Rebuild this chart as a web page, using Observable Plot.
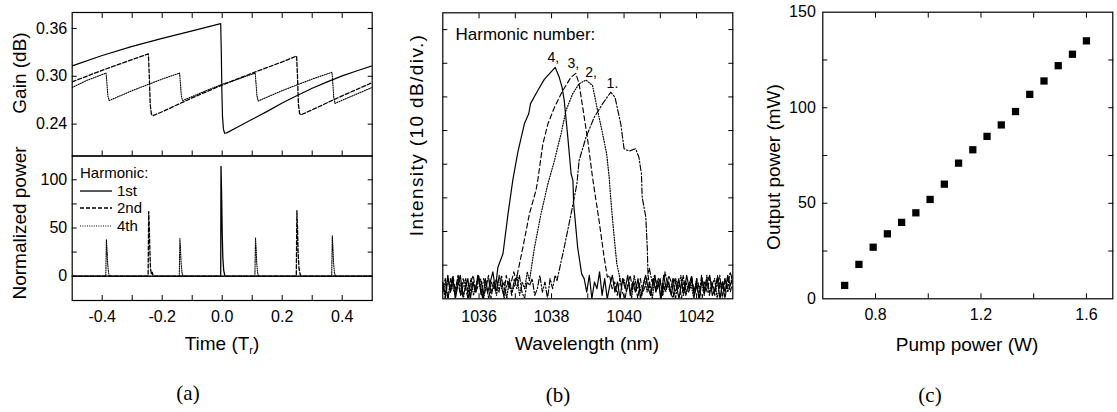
<!DOCTYPE html>
<html><head><meta charset="utf-8">
<script src="https://cdn.jsdelivr.net/npm/d3@7"></script>
<script src="https://cdn.jsdelivr.net/npm/@observablehq/plot@0.6"></script>
<style>
body{margin:0;background:#fff;}
#fig{position:relative;width:1117px;height:412px;background:#fff;font-family:"Liberation Sans",Arial,sans-serif;color:#000;overflow:hidden}
.lab{position:absolute;white-space:nowrap;font-size:19px;line-height:1;transform:translate(-50%,-50%)}
.rot{transform:translate(-50%,-50%) rotate(-90deg)}
.pl{position:absolute;white-space:nowrap;font-family:"Liberation Serif","Times New Roman",serif;font-size:21px;line-height:1;transform:translate(-50%,-50%)}
.leg{position:absolute;white-space:nowrap;font-size:15px;line-height:18px;height:18px;display:flex;align-items:center}
.leg svg{margin-right:4px}
sub{font-size:11px;vertical-align:-4px;line-height:0}
</style></head><body><div id="fig"></div><script>
// ---------- Panel (a): gain dynamics ----------
const timeTicks = [-0.4,-0.3,-0.2,-0.1,0,0.1,0.2,0.3,0.4];
const timeLabels = [-0.4,-0.2,0,0.2,0.4];
const gainTicks = [0.24,0.30,0.36];
const powerTicks = [0,25,50,75,100];
const powerLabels = [0,50,100];

// [time (Tr), gain (dB)]
const gain1st = [[-0.5,0.313],[-0.4,0.326],[-0.3,0.3375],[-0.2,0.3475],[-0.1,0.357],[-0.005,0.366],[-0.003,0.33],[-0.001,0.28],[0.001,0.25],[0.004,0.234],[0.008,0.2285],[0.015,0.229],[0.05,0.236],[0.1,0.246],[0.15,0.256],[0.2,0.2665],[0.25,0.276],[0.3,0.285],[0.35,0.293],[0.4,0.3005],[0.45,0.307],[0.5,0.313]];
const gain2nd = [[-0.5,0.293],[-0.4,0.3075],[-0.3,0.321],[-0.246,0.328],[-0.243,0.3],[-0.24,0.265],[-0.236,0.2525],[-0.232,0.2505],[-0.2,0.2555],[-0.1,0.273],[0,0.289],[0.1,0.304],[0.2,0.318],[0.248,0.3255],[0.251,0.3],[0.254,0.265],[0.258,0.2535],[0.262,0.2515],[0.3,0.258],[0.4,0.2755],[0.5,0.292]];
const gain4th = [[-0.5,0.286],[-0.45,0.295],[-0.387,0.304],[-0.384,0.29],[-0.381,0.275],[-0.377,0.2695],[-0.3,0.282],[-0.2,0.2965],[-0.142,0.304],[-0.139,0.29],[-0.136,0.275],[-0.132,0.2695],[-0.05,0.2825],[0,0.29],[0.05,0.296],[0.11,0.304],[0.113,0.29],[0.116,0.275],[0.12,0.269],[0.2,0.282],[0.3,0.2965],[0.366,0.305],[0.369,0.29],[0.372,0.273],[0.376,0.266],[0.45,0.278],[0.5,0.286]];

// [time (Tr), normalized power]
const pulse1st = [[-0.5,0],[-0.005,0],[-0.004,114],[-0.002,85],[0,45],[0.002,20],[0.005,6],[0.009,0],[0.5,0]];
const pulse2nd = [[-0.5,0],[-0.247,0],[-0.245,67],[-0.243,50],[-0.241,25],[-0.239,8],[-0.236,2],[-0.233,4],[-0.23,0],[0.247,0],[0.249,68],[0.251,50],[0.253,25],[0.256,8],[0.26,2],[0.263,0],[0.5,0]];
const pulse4th = [[-0.5,0],[-0.388,0],[-0.386,38],[-0.384,28],[-0.382,14],[-0.379,4],[-0.376,0],[-0.143,0],[-0.141,39],[-0.139,28],[-0.137,14],[-0.134,4],[-0.131,0],[0.109,0],[0.111,40],[0.113,29],[0.115,14],[0.118,4],[0.121,0],[0.365,0],[0.367,42],[0.369,30],[0.371,15],[0.374,4],[0.377,0],[0.5,0]];

// ---------- Panel (b): spectra (dB above plot floor) ----------
const wlTicks = [1036,1037,1038,1039,1040,1041,1042];
const wlLabels = [1036,1038,1040,1042];
const intTicks = [10,20,30,40,50,60,70,80];

const peak4 = [[1036.52,9.4],[1036.66,13.4],[1036.80,25.3],[1036.93,35.2],[1037.07,43.6],[1037.25,52.0],[1037.37,55.0],[1037.42,58.0],[1037.62,61.9],[1037.80,65.2],[1038.10,68.8],[1038.21,65.9],[1038.29,62.9],[1038.35,58.9],[1038.44,49.0],[1038.54,37.1],[1038.59,35.2],[1038.61,28.2],[1038.72,15.3],[1038.83,7.4]];
const peak3 = [[1037.02,5.4],[1037.21,15.3],[1037.39,25.3],[1037.57,32.2],[1037.62,35.2],[1037.76,46.0],[1037.90,52.0],[1038.08,56.9],[1038.31,61.9],[1038.54,65.9],[1038.67,67.0],[1038.76,63.9],[1038.86,56.9],[1039.00,47.0],[1039.13,36.1],[1039.31,23.3],[1039.45,12.4],[1039.54,6.4]];
const peak2 = [[1037.39,5.4],[1037.53,15.3],[1037.71,25.3],[1037.90,34.2],[1038.08,41.1],[1038.26,49.0],[1038.40,56.0],[1038.58,60.9],[1038.76,63.9],[1038.95,65.0],[1039.13,63.4],[1039.27,56.0],[1039.41,49.0],[1039.52,43.1],[1039.59,36.1],[1039.63,30.2],[1039.71,20.3],[1039.80,10.4]];
const peak1 = [[1038.15,5.4],[1038.35,15.3],[1038.54,25.3],[1038.70,34.2],[1038.76,41.1],[1038.95,48.0],[1039.18,54.0],[1039.41,58.0],[1039.63,61.4],[1039.75,59.9],[1039.91,52.0],[1040.00,44.6],[1040.14,43.9],[1040.32,44.6],[1040.41,42.1],[1040.48,37.1],[1040.50,30.2],[1040.60,24.3],[1040.64,15.3],[1040.66,7.4]];

// noise floor samples (dB), evenly sampled across the given wavelength spans
const noise4L = [5,1,7,2,6,0,4,7,1,3,6,0,5,2,7,3,0,6,2,5,8,3];
const noise4R = [6,2,7,0,5,3,8,1,6,0,4,7,2,5,0,6,3,7,1,5,2,6,0,4,7,3,1,6,2,5,0,7,3,5,1,6,4,0,5,2,7,3,6,1,4,0,6,2,5,7,1,3,6,0,5,2,7,4,6];
const noise3L = [3,6,0,4,7,2,5,1,6,3,0,5,7,2,4,6,1,3,7,0,5,2,6,4,1,7,3,5,8];
const noise3R = [7,3,5,1,6,2,0,4,7,3,5,0,6,2,4,7,1,5,3,6,0,4,2,7,5,1,3,6,0,5,2,4,7,1,6,3,0,5,2,6,4,1,7,3,5,0,6,2,5];
const noise2L = [2,5,0,6,3,1,7,4,0,5,2,6,1,4,7,3,0,5,6,2,4,1,7,3,5,0,6,2,4,7,1,5,3,8];
const noise2R = [8,4,6,2,5,0,7,3,4,1,6,2,5,0,7,3,6,1,4,5,2,0,6,3,7,1,5,2,4,0,6,3,5,1,7,2,4,6,0,5,3,6,2,4,7];
const noise1L = [4,0,6,2,5,3,7,1,4,6,0,3,5,2,7,1,6,4,0,5,3,6,2,7,0,4,5,1,6,3,7,2,0,5,4,6,1,3,7,2,5,0,6,3,7];
const noise1R = [9,5,7,3,6,1,8,4,2,6,0,5,3,7,1,4,6,2,5,0,7,3,6,1,5,2,4,7,0,6,3,8,5];

const specLabels = [{t:"4,",w:1038.05,v:71.6},{t:"3,",w:1038.60,v:69.8},{t:"2,",w:1039.09,v:67.3},{t:"1.",w:1039.68,v:64.0}];

// ---------- Panel (c): output vs pump ----------
const pumpPower = [0.683,0.737,0.791,0.845,0.899,0.953,1.007,1.061,1.115,1.169,1.223,1.277,1.331,1.385,1.439,1.493,1.547,1.600];
const outputPower = [7,18,27,34,40,45,52,60,71,78,85,91,98,107,114,122,128,135];
const pumpTicks = [0.8,1.0,1.2,1.4,1.6];
const pumpLabels = [0.8,1.2,1.6];
const outTicks = [25,50,75,100,125];
const outLabels = [0,50,100,150];

// ================= drawing =================
const fig = document.getElementById("fig");
const FONT = '"Liberation Sans", Arial, sans-serif';
const STYLE = {fontFamily: FONT, fontSize: "16px", background: "transparent", overflow: "visible", color: "#000"};
const X = d => d[0], Y = d => d[1];

function place(el, left, top) {
  el.style.position = "absolute"; el.style.left = left + "px"; el.style.top = top + "px";
  fig.appendChild(el);
}
function box({xTicks, yTicks, xLab, yLab, xFmt, yFmt, xPad = 10, yPad = 5, topTicks = true}) {
  const m = [
    Plot.axisX({ticks: xTicks, anchor: "bottom", tickSize: -5, tickFormat: () => "", label: null}),
    Plot.axisY({ticks: yTicks, anchor: "left", tickSize: -5, tickFormat: () => "", label: null}),
    Plot.axisY({ticks: yTicks, anchor: "right", tickSize: -5, tickFormat: () => "", label: null})
  ];
  if (topTicks) m.push(Plot.axisX({ticks: xTicks, anchor: "top", tickSize: -5, tickFormat: () => "", label: null}));
  if (xLab) m.push(Plot.axisX({ticks: xLab, anchor: "bottom", tickSize: 0, tickPadding: xPad, tickFormat: xFmt, label: null}));
  if (yLab) m.push(Plot.axisY({ticks: yLab, anchor: "left", tickSize: 0, tickPadding: yPad, tickFormat: yFmt, label: null}));
  m.push(Plot.frame({stroke: "#000", strokeWidth: 1.2}));
  return m;
}
function grid(from, to, vals) {
  const n = vals.length;
  return vals.map((v, i) => [from + (to - from) * i / (n - 1), v]);
}

// (a) top: gain
place(Plot.plot({
  width: 380, height: 160, marginLeft: 71.7, marginRight: 8.3, marginTop: 12, marginBottom: 4.5,
  x: {domain: [-0.5, 0.5]}, y: {domain: [0.20, 0.38]}, style: STYLE,
  marks: [
    ...box({xTicks: timeTicks, yTicks: gainTicks, yLab: gainTicks, yFmt: d => d.toFixed(2)}),
    Plot.line(gain4th, {x: X, y: Y, stroke: "#000", strokeWidth: 1.1, strokeDasharray: "1,1.3", clip: true}),
    Plot.line(gain2nd, {x: X, y: Y, stroke: "#000", strokeWidth: 1.3, strokeDasharray: "4,2", clip: true}),
    Plot.line(gain1st, {x: X, y: Y, stroke: "#000", strokeWidth: 1.2, clip: true})
  ]
}), 0, 0);

// (a) bottom: pulses
place(Plot.plot({
  width: 380, height: 190, marginLeft: 71.7, marginRight: 8.3, marginTop: 5.5, marginBottom: 40,
  x: {domain: [-0.5, 0.5]}, y: {domain: [-25.2, 124.7]}, style: STYLE,
  marks: [
    ...box({xTicks: timeTicks, yTicks: powerTicks, xLab: timeLabels, yLab: powerLabels,
            xFmt: d => d.toFixed(1), yFmt: d => String(d), topTicks: false}),
    Plot.line(pulse4th, {x: X, y: Y, stroke: "#000", strokeWidth: 1.1, strokeDasharray: "1,1.3", clip: true}),
    Plot.line(pulse2nd, {x: X, y: Y, stroke: "#000", strokeWidth: 1.3, strokeDasharray: "4,2", clip: true}),
    Plot.line(pulse1st, {x: X, y: Y, stroke: "#000", strokeWidth: 1.3, clip: true})
  ]
}), 0, 150);

// (b) spectra
const spec4 = [...grid(1035.0, 1036.45, noise4L), ...peak4, ...grid(1038.90, 1043.0, noise4R)];
const spec3 = [...grid(1035.0, 1036.96, noise3L), ...peak3, ...grid(1039.60, 1043.0, noise3R)];
const spec2 = [...grid(1035.0, 1037.33, noise2L), ...peak2, ...grid(1039.85, 1043.0, noise2R)];
const spec1 = [...grid(1035.0, 1038.10, noise1L), ...peak1, ...grid(1040.70, 1043.0, noise1R)];
place(Plot.plot({
  width: 360, height: 340, marginLeft: 62.3, marginRight: 7.7, marginTop: 12.3, marginBottom: 41.7,
  x: {domain: [1035, 1043]}, y: {domain: [0, 85]}, style: STYLE,
  marks: [
    ...box({xTicks: wlTicks, yTicks: intTicks, xLab: wlLabels, xFmt: d => String(d), xPad: 11.5}),
    Plot.line(spec1, {x: X, y: Y, stroke: "#000", strokeWidth: 1.15, strokeDasharray: "6,2,1.5,2", clip: true}),
    Plot.line(spec2, {x: X, y: Y, stroke: "#000", strokeWidth: 1.2, strokeDasharray: "1,1.6", clip: true}),
    Plot.line(spec3, {x: X, y: Y, stroke: "#000", strokeWidth: 1.15, strokeDasharray: "5,3", clip: true}),
    Plot.line(spec4, {x: X, y: Y, stroke: "#000", strokeWidth: 1.2, clip: true}),
    Plot.text(["Harmonic number:"], {frameAnchor: "top-left", dx: 12.7, dy: 15, lineAnchor: "top", textAnchor: "start", fontSize: 17, fill: "#000"}),
    Plot.text(specLabels, {x: "w", y: "v", text: "t", fontSize: 14, fill: "#000", lineAnchor: "middle"})
  ]
}), 380, 0);

// (c) output power
place(Plot.plot({
  width: 372, height: 340, marginLeft: 77.3, marginRight: 4.7, marginTop: 11.7, marginBottom: 41.7,
  x: {domain: [0.6, 1.7]}, y: {domain: [0, 150]}, style: STYLE,
  marks: [
    ...box({xTicks: pumpTicks, yTicks: outTicks, xLab: pumpLabels, yLab: outLabels,
            xFmt: d => d.toFixed(1), yFmt: d => String(d), yPad: 7}),
    Plot.dot(pumpPower, {x: d => d, y: (d, i) => outputPower[i], symbol: "square", r: 4.1, fill: "#000", stroke: "none"})
  ]
}), 745, 0);

// ---------- HTML text: axis titles, panel labels, legend ----------
function label(html, cx, cy, cls, extra) {
  const d = document.createElement("div");
  d.className = cls; d.innerHTML = html;
  d.style.left = cx + "px"; d.style.top = cy + "px";
  if (extra) Object.assign(d.style, extra);
  fig.appendChild(d);
}
label("Gain (dB)", 19, 73, "lab rot");
label("Normalized power", 19, 223, "lab rot");
label("Time (T<sub>r</sub>)", 222, 343, "lab");
label("(a)", 188, 393, "pl");
label("Intensity (10 dB/div.)", 415.5, 135, "lab rot", {letterSpacing: "1.4px"});
label("Wavelength (nm)", 587, 343, "lab");
label("(b)", 558, 395, "pl");
label("Output power (mW)", 772.5, 167, "lab rot");
label("Pump power (W)", 967, 344, "lab");
label("(c)", 930, 395, "pl");

const legendRows = [
  {text: "Harmonic:", dash: null},
  {text: "1st", dash: "none"},
  {text: "2nd", dash: "4,2"},
  {text: "4th", dash: "1,1.3"}
];
const legendY = [173.3, 190.7, 208.3, 226];
legendRows.forEach((r, i) => {
  const d = document.createElement("div");
  d.className = "leg";
  d.style.left = "80px"; d.style.top = (legendY[i] - 9) + "px";
  if (r.dash !== null) {
    const sw = r.dash === "none" ? 1.3 : (r.dash === "4,2" ? 1.3 : 1.1);
    d.innerHTML = `<svg width="33" height="4"><line x1="0" y1="2" x2="32" y2="2" stroke="#000" stroke-width="${sw}" ${r.dash === "none" ? "" : `stroke-dasharray="${r.dash}"`}/></svg>`;
  }
  d.appendChild(document.createTextNode(r.text));
  fig.appendChild(d);
});
</script></body></html>
